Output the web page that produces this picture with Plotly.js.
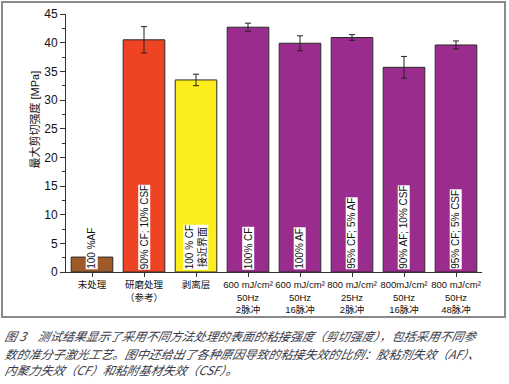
<!DOCTYPE html>
<html>
<head>
<meta charset="utf-8">
<script src="https://cdn.plot.ly/plotly-3.0.1.min.js"></script>
<style>
html,body{margin:0;padding:0;background:#fff;}
#chart{width:509px;height:384px;}
</style>
</head>
<body>
<div id="chart"></div>
<script>
var categories = [
  "未处理",
  "研磨处理<br>（参考）",
  "剥离层",
  "600 mJ/cm²<br>50Hz<br>2脉冲",
  "600 mJ/cm²<br>50Hz<br>16脉冲",
  "800 mJ/cm²<br>25Hz<br>2脉冲",
  "800mJ/cm²<br>50Hz<br>16脉冲",
  "800 mJ/cm²<br>50Hz<br>48脉冲"
];
var strength = [2.6, 40.5, 33.5, 42.7, 39.9, 40.9, 35.7, 39.6];
var errors = [0, 2.3, 1.0, 0.7, 1.3, 0.5, 1.9, 0.7];
var failureLabels = [
  "100 %AF",
  "90% CF; 10% CSF",
  "100 % CF<br>接近界面",
  "100% CF",
  "100% AF",
  "95% CF; 5% AF",
  "90% AF; 10% CSF",
  "95% CF; 5% CSF"
];
var barColors = ["#9E5A2B", "#EE4424", "#FBEE1C", "#9A2C8E", "#9A2C8E", "#9A2C8E", "#9A2C8E", "#9A2C8E"];
var yTitle = "最大剪切强度 [MPa]";
var captionLines = [
  "图 3　测试结果显示了采用不同方法处理的表面的粘接强度（剪切强度），包括采用不同参",
  "数的准分子激光工艺。图中还给出了各种原因导致的粘接失效的比例：胶粘剂失效（AF）、",
  "内聚力失效（CF）和粘附基材失效（CSF）。"
];

var FONT = "Liberation Sans, Arial, Noto Sans CJK SC, sans-serif";
var CJK = "Noto Sans CJK SC, Liberation Sans, sans-serif";

var idx = categories.map(function(_, i){ return i; });

var trace = {
  type: "bar",
  x: idx,
  y: strength,
  width: 0.8,
  marker: {color: barColors, line: {color: "#2a2a2a", width: 1}},
  error_y: {type: "data", array: errors, visible: true, color: "#222", thickness: 1, width: 3},
  hoverinfo: "skip"
};

var annotations = [];
failureLabels.forEach(function(t, i){
  annotations.push({
    x: i, y: 0.3, xref: "x", yref: "y",
    text: t, textangle: -90, showarrow: false,
    xanchor: "center", yanchor: "bottom",
    bgcolor: "#ffffff", borderpad: 0,
    font: {family: FONT, size: 10, color: "#111"}
  });
});
annotations.push({
  x: -0.075, y: 0.59, xref: "paper", yref: "paper",
  text: yTitle, textangle: -90, showarrow: false,
  xanchor: "center", yanchor: "middle",
  font: {family: FONT, size: 11, color: "#111"}
});
var capStart = annotations.length;
var capY = [335, 353, 369];
captionLines.forEach(function(t, i){
  annotations.push({
    x: (3 - 66) / 416, y: (272 - capY[i]) / 258, xref: "paper", yref: "paper",
    text: t, showarrow: false,
    xanchor: "left", yanchor: "middle",
    font: {family: CJK, size: 12, color: "#3a3a48", style: "italic"}
  });
});

var layout = {
  width: 509, height: 384,
  margin: {l: 66, r: 27, t: 14, b: 112},
  paper_bgcolor: "#ffffff",
  plot_bgcolor: "#ffffff",
  showlegend: false,
  bargap: 0.2,
  xaxis: {
    type: "linear",
    range: [-0.5, 7.5],
    tickvals: idx,
    ticktext: categories,
    tickangle: 0,
    showline: true, linecolor: "#333", linewidth: 1,
    ticks: "outside", ticklen: 4, tickcolor: "#333",
    showgrid: false, zeroline: false,
    tickfont: {family: FONT, size: 9.5, color: "#111"}
  },
  yaxis: {
    range: [0, 45],
    dtick: 5,
    showline: true, linecolor: "#333", linewidth: 1,
    ticks: "outside", ticklen: 5, tickcolor: "#333",
    minor: {dtick: 2.5, ticks: "outside", ticklen: 3, tickcolor: "#333", showgrid: false},
    showgrid: false, zeroline: false,
    tickfont: {family: FONT, size: 12, color: "#111"}
  },
  shapes: [{
    type: "rect", xref: "paper", yref: "paper",
    x0: (2 - 66) / 416, x1: (505 - 66) / 416,
    y0: (272 - 317) / 258, y1: (272 - 2) / 258,
    line: {color: "#8a8a8a", width: 2}, fillcolor: "rgba(0,0,0,0)", layer: "below"
  }],
  annotations: annotations
};

Plotly.newPlot("chart", [trace], layout, {displayModeBar: false, staticPlot: true}).then(function(gd){
  // CJK fonts have no italic face: slant the caption lines to mimic the italic caption
  var groups = gd.querySelectorAll("g.annotation");
  groups.forEach(function(g){
    var k = +g.getAttribute("data-index");
    if (k >= capStart) {
      var t = g.querySelector("text");
      if (t) {
        t.style.transformBox = "fill-box";
        t.style.transformOrigin = "center";
        t.style.transform = "skewX(-12deg)";
      }
    }
  });
});
</script>
</body>
</html>
